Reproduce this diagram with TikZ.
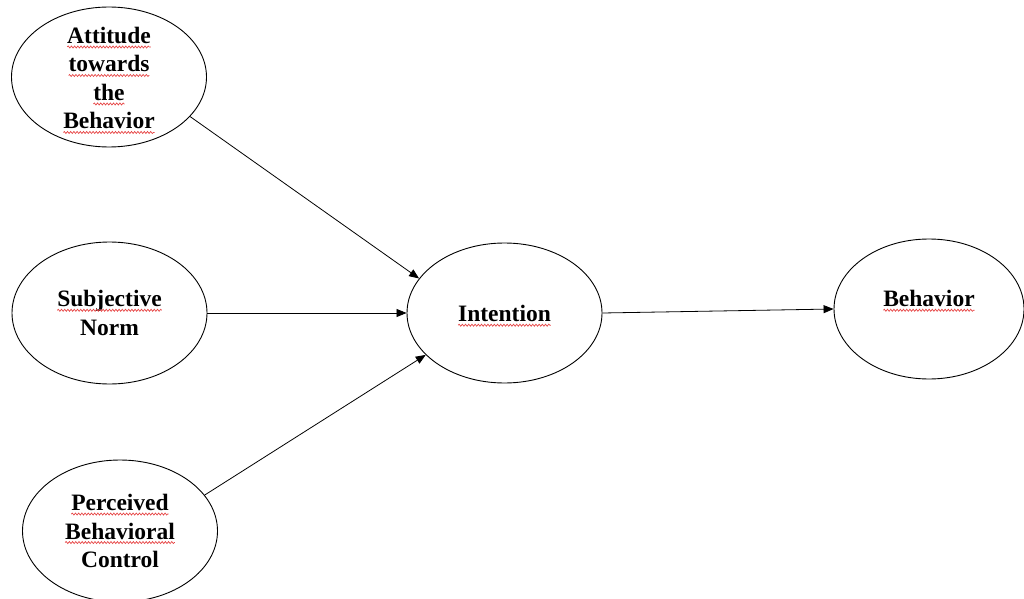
\documentclass[tikz,border=0pt]{standalone}
\usepackage{fontspec}
\setmainfont{Liberation Serif}
\usetikzlibrary{arrows.meta,shapes.geometric,decorations.pathmorphing}
\definecolor{spell}{RGB}{230,70,70}
\tikzset{
  wavy/.style={draw=spell,line width=0.7pt,decorate,decoration={snake,amplitude=1pt,segment length=3.2pt}},
  oval/.style={draw,ellipse,line width=0.9pt,inner sep=0pt},
  txt/.style={align=center,inner sep=0pt,font=\bfseries\fontsize{23.5}{28.5}\selectfont},
  conn/.style={line width=0.8pt,-{Triangle[length=10pt,width=8pt]}}
}
\newcommand\sq[1]{\tikz[baseline=(w.base)]{\node[shape=rectangle,draw=none,fill=none,inner sep=0pt,outer sep=0pt,anchor=base](w){#1};\draw[wavy] ([yshift=-3.5pt]w.base west) -- ([yshift=-3.5pt]w.base east);}}
\begin{document}
\begin{tikzpicture}[x=1pt,y=1pt]
\useasboundingbox (0,0) rectangle (1024,598);
\node[oval,minimum width=195pt,minimum height=140pt] (att) at (109,521) {};
\node[oval,minimum width=195pt,minimum height=142pt] (sub) at (109.5,285) {};
\node[oval,minimum width=195pt,minimum height=142pt] (per) at (120,67) {};
\node[oval,minimum width=195pt,minimum height=140pt] (int) at (504.5,285) {};
\node[oval,minimum width=190pt,minimum height=140pt] (beh) at (929,289) {};
\node[txt] (att-t) at (109,517.5) {\sq{Attitude}\\\sq{towards}\\\sq{the}\\\sq{Behavior}};
\node[txt] (sub-t) at (sub) {\sq{Subjective}\\Norm};
\node[txt] (per-t) at (per) {\sq{Perceived}\\\sq{Behavioral}\\Control};
\node[txt] (int-t) at (504.5,282) {\sq{Intention}};
\node[txt] (beh-t) at (929,297) {\sq{Behavior}};
\draw[conn] (att.-26) -- (int.158);
\draw[conn] (sub.east) -- (int.west);
\draw[conn] (per.23) -- (int.-152);
\draw[conn] (int.east) -- (beh.west);
\end{tikzpicture}
\end{document}
